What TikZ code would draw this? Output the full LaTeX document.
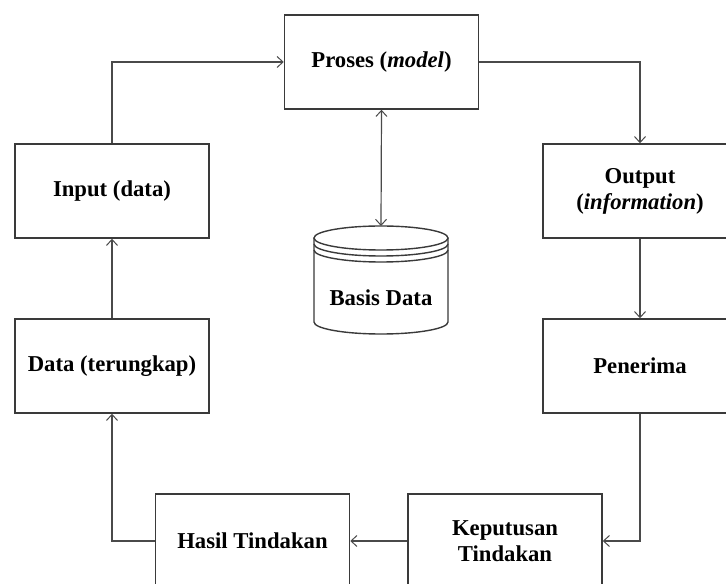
\documentclass[tikz,border=0pt]{standalone}
\usepackage{fontspec}
\setmainfont{Liberation Serif}
\usetikzlibrary{arrows.meta}
\definecolor{boxline}{HTML}{3A3A3A}
\definecolor{conline}{HTML}{4A4A4A}
\tikzset{
  txt/.style={font=\fontsize{22.7}{26}\selectfont\bfseries},
  procbox/.style={txt, draw=boxline, line width=1.5pt, fill=white, minimum width=194pt, minimum height=94pt, inner sep=0pt, align=center},
  conn/.style={draw=conline, line width=1.2pt, -{Straight Barb[length=6pt,width=11pt,line width=1pt]}},
  dbline/.style={draw=boxline, line width=1.4pt}
}
\begin{document}
\begin{tikzpicture}[x=1pt,y=1pt]
\clip (0,0) rectangle (726,584);
\fill[white] (0,0) rectangle (726,584);
\node[procbox] (proses) at (381.5,522) {Proses (\textit{model})};
\node[procbox] (input) at (112,393) {Input (data)};
\node[procbox] (output) at (640,393) {Output\\(\textit{information})};
\node[procbox] (data) at (112,218) {Data (terungkap)};
\node[procbox] (penerima) at (640,218) {Penerima};
\node[procbox] (hasil) at (252.5,43) {Hasil Tindakan};
\node[procbox] (keputusan) at (505,43) {Keputusan\\Tindakan};
% database cylinder
\draw[dbline, fill=white] (314,346) -- (314,262) arc[start angle=180, end angle=360, x radius=67pt, y radius=12pt] -- (448,346);
\draw[dbline] (381,346) ellipse [x radius=67pt, y radius=12pt];
\draw[dbline] (314,340) arc[start angle=180, end angle=360, x radius=67pt, y radius=12pt];
\draw[dbline] (314,334) arc[start angle=180, end angle=360, x radius=67pt, y radius=12pt];
\coordinate (dbtop) at (381,358);
\node[txt] (basis) at (381,286) {Basis Data};
% connectors
\draw[conn] (input.north) |- (proses.west);
\draw[conn] (proses.east) -| (output.north);
\draw[conn, {Straight Barb[length=6pt,width=11pt,line width=1pt]}-{Straight Barb[length=6pt,width=11pt,line width=1pt]}] (proses.south) -- (dbtop);
\draw[conn] (output.south) -- (penerima.north);
\draw[conn] (penerima.south) |- (keputusan.east);
\draw[conn] (keputusan.west) -- (hasil.east);
\draw[conn] (hasil.west) -| (data.south);
\draw[conn] (data.north) -- (input.south);
\end{tikzpicture}
\end{document}
